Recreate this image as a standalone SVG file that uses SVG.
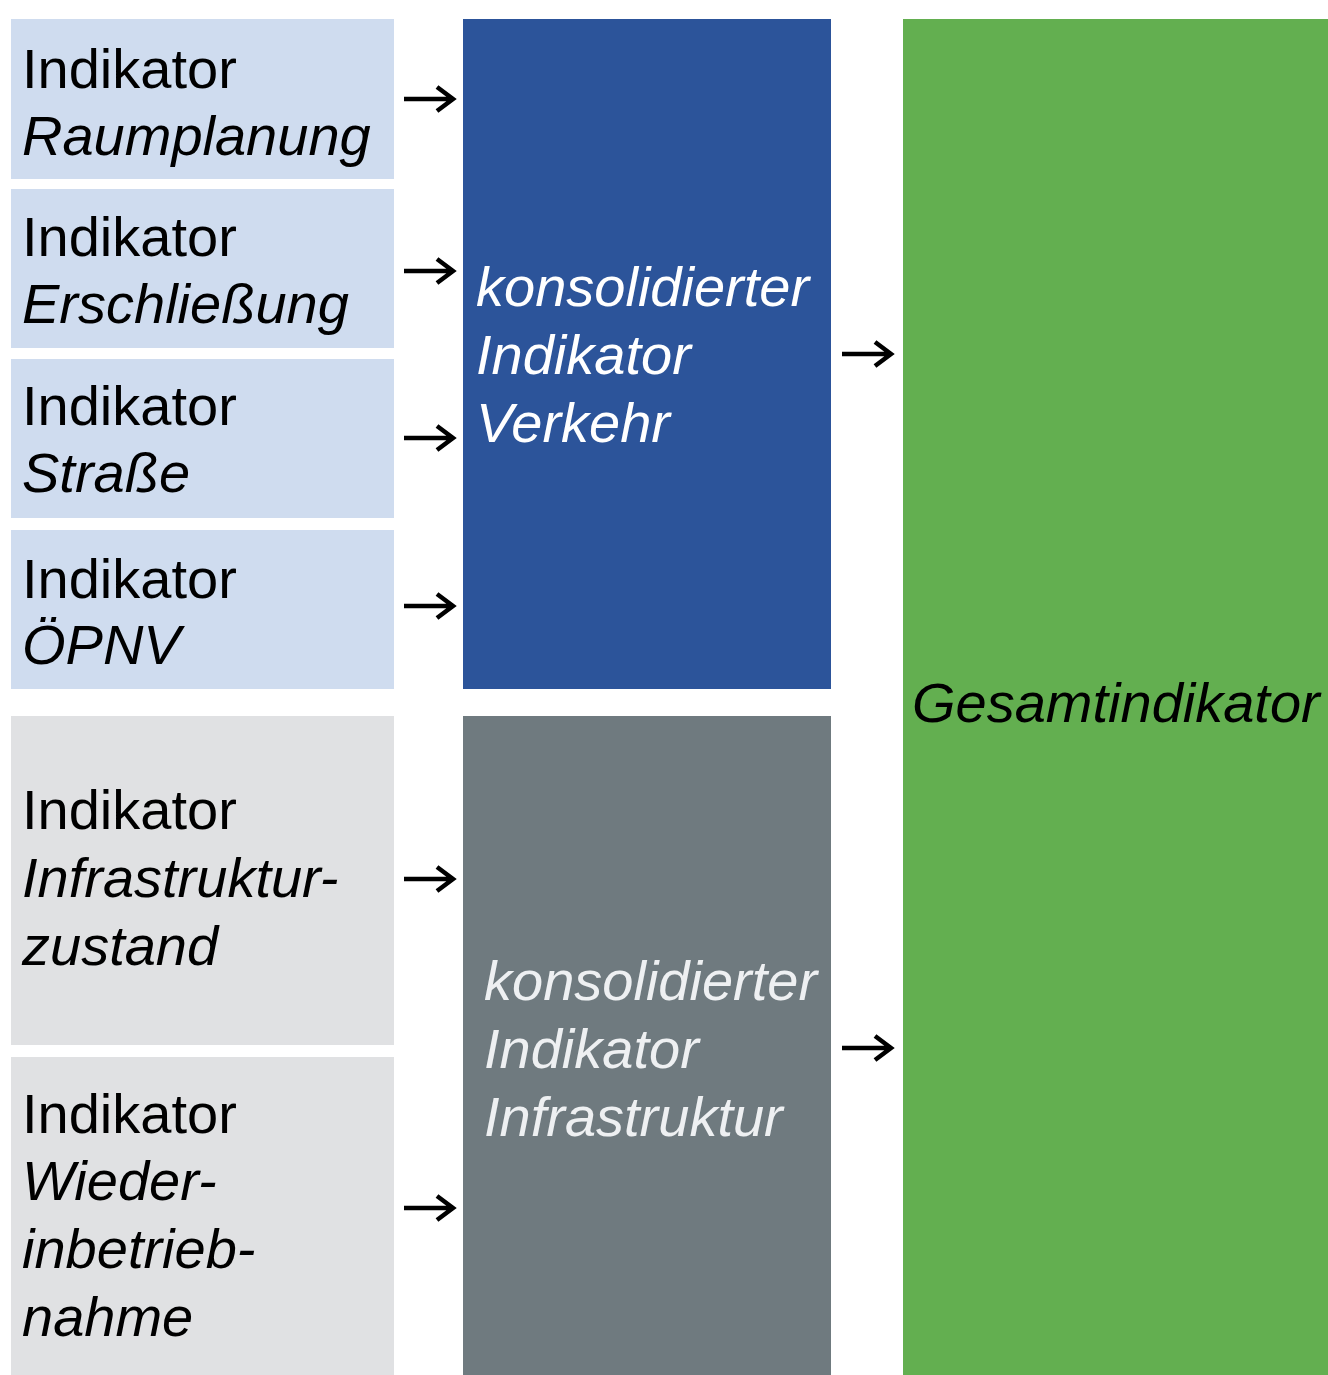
<svg xmlns="http://www.w3.org/2000/svg" width="1328" height="1375" viewBox="0 0 1328 1375">
<defs>
<style>
text{font-family:"Liberation Sans",Arial,sans-serif;font-size:56px;fill:#000}
.i{font-style:italic}
.w{fill:#fff}
.g{fill:#eef0f2}
.lb{fill:#cfdcef}
.lg{fill:#e0e1e3}
.arr{stroke:#000;stroke-width:4.5;fill:none;stroke-linecap:butt}
.hd{stroke:#000;stroke-width:4.5;fill:none;stroke-linejoin:miter}
</style>
</defs>
<rect width="1328" height="1375" fill="#fff"/>
<g id="n1"><rect class="lb" x="11" y="19" width="383" height="160"/><text x="22" y="88">Indikator</text><text class="i" x="22" y="155">Raumplanung</text></g>
<g id="n2"><rect class="lb" x="11" y="189" width="383" height="159"/><text x="22" y="256">Indikator</text><text class="i" x="22" y="323">Erschließung</text></g>
<g id="n3"><rect class="lb" x="11" y="359" width="383" height="159"/><text x="22" y="425">Indikator</text><text class="i" x="22" y="492">Straße</text></g>
<g id="n4"><rect class="lb" x="11" y="530" width="383" height="159"/><text x="22" y="598">Indikator</text><text class="i" x="22" y="664">ÖPNV</text></g>
<g id="n5"><rect class="lg" x="11" y="716" width="383" height="329"/><text x="22" y="829">Indikator</text><text class="i" x="22" y="897">Infrastruktur-</text><text class="i" x="22" y="965">zustand</text></g>
<g id="n6"><rect class="lg" x="11" y="1057" width="383" height="318"/><text x="22" y="1133">Indikator</text><text class="i" x="22" y="1200">Wieder-</text><text class="i" x="22" y="1268">inbetrieb-</text><text class="i" x="22" y="1336">nahme</text></g>
<g id="n7"><rect x="463" y="19" width="368" height="670" fill="#2c549a"/><text class="i w" x="476" y="306">konsolidierter</text><text class="i w" x="476" y="374">Indikator</text><text class="i w" x="476" y="442">Verkehr</text></g>
<g id="n8"><rect x="463" y="716" width="368" height="659" fill="#6f7a7f"/><text class="i g" x="484" y="1000">konsolidierter</text><text class="i g" x="484" y="1068">Indikator</text><text class="i g" x="484" y="1136">Infrastruktur</text></g>
<g id="n9"><rect x="903" y="19" width="425" height="1356" fill="#63af50"/><text class="i" x="912" y="722">Gesamtindikator</text></g>
<g id="connectors">
<path class="arr" d="M404 99H453M437 87L453 99L437 111"/>
<path class="arr" d="M404 271H453M437 259L453 271L437 283"/>
<path class="arr" d="M404 438H453M437 426L453 438L437 450"/>
<path class="arr" d="M404 606H453M437 594L453 606L437 618"/>
<path class="arr" d="M404 879H453M437 867L453 879L437 891"/>
<path class="arr" d="M404 1208H453M437 1196L453 1208L437 1220"/>
<path class="arr" d="M842 354H891M875 342L891 354L875 366"/>
<path class="arr" d="M842 1048H891M875 1036L891 1048L875 1060"/>
</g>
</svg>
